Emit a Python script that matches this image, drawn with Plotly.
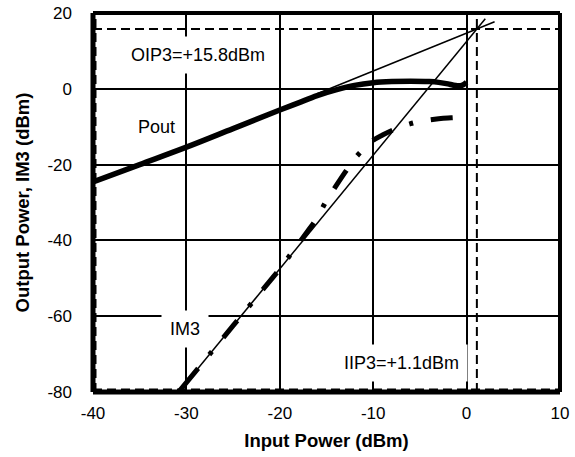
import plotly.graph_objects as go

# Measured amplifier response (dBm)
pin_out = [-40, -35, -30, -25, -20, -18, -16, -14, -12, -10, -8, -6, -4, -3, -2, -1.5, -1, -0.5, 0]
pout = [-24.6, -20.0, -15.4, -10.5, -5.6, -3.7, -1.8, -0.3, 0.9, 1.6, 1.9, 2.0, 1.9, 1.7, 1.3, 1.0, 0.8, 0.9, 1.7]

pin_im3 = [-30.8, -28, -25, -22, -20, -18.5, -17, -16, -15, -14, -13, -12, -11, -10, -9, -8, -7, -6, -5, -4, -3, -2, -1, -0.5, 0]
im3 = [-79.9, -71.5, -62.5, -53.5, -47.5, -42.5, -37.5, -34.0, -29.5, -25.7, -22.0, -18.5, -15.8, -13.6, -12.2, -11.0, -10.0,
       -9.2, -8.6, -8.2, -7.9, -7.7, -7.6, -7.7, -7.2]

# Third-order intercept point
iip3 = 1.1
oip3 = 15.8

# Extent of the extrapolated fundamental (slope 1) and IM3 (slope 3) lines
fund_x = [-16.0, 3.0]
im3_x = [-30.83, 2.0]

x_range = [-40, 10]
y_range = [-80, 20]
x_ticks = [-40, -30, -20, -10, 0, 10]
y_ticks = [-80, -60, -40, -20, 0, 20]
x_tick_text = ["-40", "-30", "-20", "-10", "0", "10"]
y_tick_text = ["-80", "-60", "-40", "-20", "0", "20"]

FONT = "Liberation Sans, Arial, sans-serif"
dash_style = "9px,5px"
# long dash / dot pattern for the IM3 trace, first dash slightly longer
im3_dash = ",".join(["30px"] + ["18px", "4px", "18px", "22px"] * 9)

fig = go.Figure()

# Intercept drop lines and edge lines
fig.add_trace(go.Scatter(x=x_range, y=[oip3, oip3], mode="lines",
                         line=dict(color="black", width=2, dash=dash_style), hoverinfo="skip"))
fig.add_trace(go.Scatter(x=[iip3, iip3], y=y_range, mode="lines",
                         line=dict(color="black", width=2, dash=dash_style), hoverinfo="skip"))
fig.add_trace(go.Scatter(x=[x_range[0], x_range[0]], y=y_range, mode="lines",
                         line=dict(color="black", width=7, dash=dash_style), hoverinfo="skip"))
fig.add_trace(go.Scatter(x=x_range, y=[y_range[0], y_range[0]], mode="lines",
                         line=dict(color="black", width=7, dash=dash_style), hoverinfo="skip"))

# Extrapolated lines through the intercept point
gain = oip3 - iip3
fig.add_trace(go.Scatter(x=fund_x, y=[v + gain for v in fund_x], mode="lines",
                         line=dict(color="black", width=1.5), hoverinfo="skip"))
fig.add_trace(go.Scatter(x=im3_x, y=[3 * (v - iip3) + oip3 for v in im3_x], mode="lines",
                         line=dict(color="black", width=1.5), hoverinfo="skip"))

# Measured curves
fig.add_trace(go.Scatter(x=pin_im3, y=im3, mode="lines", line_shape="spline",
                         line=dict(color="black", width=5, dash=im3_dash), name="IM3"))
fig.add_trace(go.Scatter(x=pin_out, y=pout, mode="lines", line_shape="spline",
                         line=dict(color="black", width=5.5), name="Pout"))

ann_font = dict(family=FONT, size=18, color="black")
fig.add_annotation(x=-28.8, y=8.8, text="OIP3=+15.8dBm", showarrow=False, font=ann_font,
                   bgcolor="white", borderpad=8)
fig.add_annotation(x=-6.96, y=-72.3, text="IIP3=+1.1dBm", showarrow=False, font=ann_font,
                   bgcolor="white", borderpad=8)
fig.add_annotation(x=-30.2, y=-63.3, text="IM3", showarrow=False, font=ann_font,
                   bgcolor="white", borderpad=8)
fig.add_annotation(x=-33.2, y=-10.2, text="Pout", showarrow=False, font=ann_font)

# Plot frame
frame = [
    dict(x0=0, x1=1, y0=1, y1=1, w=4),
    dict(x0=1, x1=1, y0=0, y1=1, w=4),
    dict(x0=0, x1=0, y0=0, y1=1, w=5),
    dict(x0=0, x1=1, y0=0, y1=0, w=5),
]
for f in frame:
    fig.add_shape(type="line", xref="paper", yref="paper", x0=f["x0"], x1=f["x1"],
                  y0=f["y0"], y1=f["y1"], line=dict(color="black", width=f["w"]), layer="above")

axis_common = dict(
    showgrid=True, gridcolor="black", gridwidth=1.5, zeroline=False, showline=False,
    ticks="", tickfont=dict(family=FONT, size=17, color="black"), automargin=False,
)
title_font = dict(family=FONT, size=18.5, color="black")
fig.update_xaxes(range=x_range, tickvals=x_ticks, ticktext=x_tick_text, ticklabelstandoff=9,
                 title=dict(text="<b>Input Power (dBm)</b>", font=title_font, standoff=12),
                 **axis_common)
fig.update_yaxes(range=y_range, tickvals=y_ticks, ticktext=y_tick_text, ticklabelstandoff=20,
                 title=dict(text="<b>Output Power, IM3 (dBm)</b>", font=title_font, standoff=12),
                 **axis_common)

fig.update_layout(
    width=575, height=457,
    margin=dict(l=93, r=15, t=13, b=65),
    paper_bgcolor="white", plot_bgcolor="white",
    showlegend=False,
)

fig.write_html("out.html")
